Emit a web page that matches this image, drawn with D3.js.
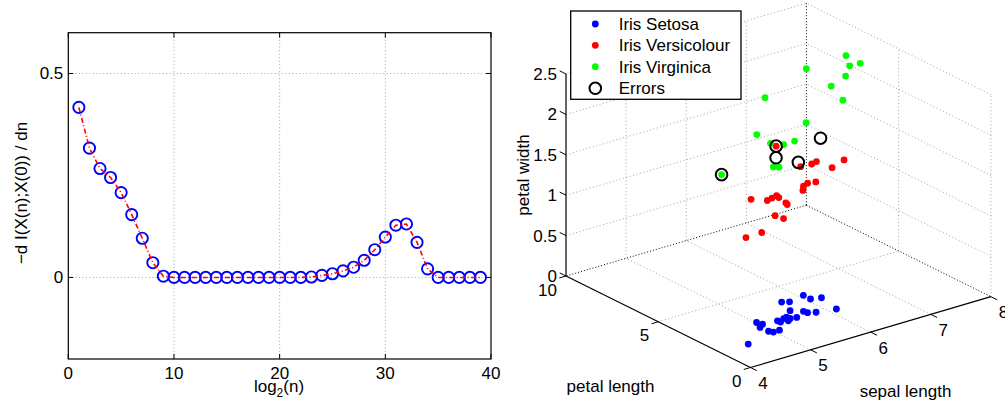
<!DOCTYPE html>
<html>
<head>
<meta charset="utf-8">
<script src="https://cdn.jsdelivr.net/npm/d3@7"></script>
<style>
  body { margin: 0; background: #fff; }
  svg { display: block; font-family: 'Liberation Sans', Arial, sans-serif; }
</style>
</head>
<body>
<div class="wrapper"></div>
<script>
// left panel data: -dI/dn against log2(n)
const steps = [1, 2, 3, 4, 5, 6, 7, 8, 9, 10, 11, 12, 13, 14, 15, 16, 17, 18, 19, 20,
  21, 22, 23, 24, 25, 26, 27, 28, 29, 30, 31, 32, 33, 34, 35, 36, 37, 38, 39]
const rates = [0.417, 0.317, 0.267, 0.245, 0.208, 0.154, 0.096, 0.036, 0.003,
  0, 0, 0, 0, 0, 0, 0, 0, 0, 0, 0, 0, 0, 0.001,
  0.005, 0.009, 0.016, 0.025, 0.042, 0.068, 0.099, 0.128, 0.131, 0.086, 0.021,
  0, 0, 0, 0, 0]
const xTicks = [0, 10, 20, 30, 40]
const yTicks = [0, 0.5]

// right panel data: [sepal length, petal length, petal width]
const setosa = [
  [5.34, 1.5, 0.43], [5.49, 1.6, 0.34], [5.58, 1.3, 0.37], [5.04, 1.7, 0.39], [5.11, 1.5, 0.40],
  [5.89, 1.5, 0.14], [5.15, 1.6, 0.27], [5.31, 1.4, 0.25], [5.41, 1.5, 0.20], [5.49, 1.3, 0.21],
  [5.23, 1.5, 0.18], [5.09, 1.4, 0.21], [4.95, 1.3, 0.25], [5.09, 1.5, 0.17], [4.93, 1.4, 0.20],
  [4.94, 1.6, 0.19], [4.50, 1.3, 0.30], [4.63, 1.4, 0.24], [4.62, 1.5, 0.19], [4.73, 1.4, 0.13],
  [4.78, 1.3, 0.12], [4.85, 1.2, 0.14], [4.30, 1.1, 0.10], [5.06, 1.5, 0.22]
]
const versicolour = [
  [5.90, 4.80, 1.78], [6.20, 4.45, 1.50], [6.44, 4.63, 1.46], [6.54, 4.70, 1.46], [7.00, 4.70, 1.38],
  [6.88, 4.96, 1.28], [6.53, 4.70, 1.21], [6.35, 4.56, 1.25], [6.26, 4.49, 1.24], [6.25, 4.49, 1.19],
  [5.13, 3.65, 1.42], [5.48, 3.91, 1.30], [5.58, 3.98, 1.30], [5.68, 4.06, 1.30], [5.88, 4.21, 1.15],
  [5.91, 4.23, 1.12], [5.65, 4.04, 1.06], [5.83, 4.17, 0.97], [5.36, 3.82, 0.94], [5.02, 3.57, 0.98],
  [5.73, 4.10, 1.26]
]
const virginica = [
  [7.48, 6.16, 2.40], [7.56, 6.22, 2.25], [7.79, 6.40, 2.21], [7.47, 6.15, 2.15], [6.62, 5.51, 2.50],
  [7.16, 5.92, 2.12], [5.73, 4.85, 2.41], [7.41, 6.10, 1.87], [6.62, 5.52, 1.83], [5.55, 4.71, 2.01],
  [6.37, 5.33, 1.68], [5.85, 4.94, 1.81], [6.13, 5.14, 1.71], [5.91, 4.98, 1.50], [6.03, 5.07, 1.46],
  [4.90, 4.50, 1.68]
]
const errors = [[4.90, 4.50, 1.68], [5.90, 4.80, 1.78], [5.96, 5.00, 1.60], [6.30, 4.90, 1.48], [6.70, 5.00, 1.68]]
const sepalTicks = [4, 5, 6, 7, 8]
const petalTicks = [0, 5, 10]
const widthTicks = [0, 0.5, 1, 1.5, 2, 2.5]
const legendNames = ['Iris Setosa', 'Iris Versicolour', 'Iris Virginica', 'Errors']

const width = 1005, height = 402
const font = 17

const svg = d3.select('.wrapper')
  .append('svg')
  .attr('width', width)
  .attr('height', height)

// ---------- left panel ----------
const box = { left: 68.3, right: 491, top: 32.7, bottom: 359 }
const x = d3.scaleLinear().domain([0, 40]).range([box.left, box.right])
const y = d3.scaleLinear().domain([-0.2, 0.6]).range([box.bottom, box.top])

const lp = svg.append('g')

// dotted grid
lp.selectAll('line.vgrid')
  .data(xTicks.slice(1, -1))
  .join('line')
  .attr('x1', d => x(d)).attr('x2', d => x(d))
  .attr('y1', box.top).attr('y2', box.bottom)
  .attr('stroke', '#8a8a8a').attr('stroke-width', 0.8).attr('stroke-dasharray', '1,2.5')

lp.selectAll('line.hgrid')
  .data(yTicks)
  .join('line')
  .attr('x1', box.left).attr('x2', box.right)
  .attr('y1', d => y(d)).attr('y2', d => y(d))
  .attr('stroke', '#8a8a8a').attr('stroke-width', 0.8).attr('stroke-dasharray', '1,2.5')

// inward ticks on all four sides
const tk = 5
xTicks.forEach(d => {
  lp.append('line').attr('x1', x(d)).attr('x2', x(d)).attr('y1', box.bottom).attr('y2', box.bottom - tk).attr('stroke', '#000')
  lp.append('line').attr('x1', x(d)).attr('x2', x(d)).attr('y1', box.top).attr('y2', box.top + tk).attr('stroke', '#000')
})
yTicks.forEach(d => {
  lp.append('line').attr('x1', box.left).attr('x2', box.left + tk).attr('y1', y(d)).attr('y2', y(d)).attr('stroke', '#000')
  lp.append('line').attr('x1', box.right).attr('x2', box.right - tk).attr('y1', y(d)).attr('y2', y(d)).attr('stroke', '#000')
})

lp.append('rect')
  .attr('x', box.left).attr('y', box.top)
  .attr('width', box.right - box.left).attr('height', box.bottom - box.top)
  .attr('fill', 'none').attr('stroke', '#000').attr('stroke-width', 1.2)

// tick labels
lp.selectAll('text.xt')
  .data(xTicks)
  .join('text')
  .attr('x', d => x(d)).attr('y', box.bottom + 20)
  .attr('text-anchor', 'middle').attr('font-size', font)
  .text(d => d)

lp.selectAll('text.yt')
  .data(yTicks)
  .join('text')
  .attr('x', box.left - 5).attr('y', d => y(d)).attr('dy', '0.35em')
  .attr('text-anchor', 'end').attr('font-size', font)
  .text(d => d)

// axis labels
const xl = lp.append('text')
  .attr('x', 279).attr('y', 392)
  .attr('text-anchor', 'middle').attr('font-size', font)
xl.append('tspan').text('log')
xl.append('tspan').attr('dy', 5).attr('font-size', 12).text('2')
xl.append('tspan').attr('dy', -5).text('(n)')

lp.append('text')
  .attr('transform', 'translate(27, 193) rotate(-90)')
  .attr('text-anchor', 'middle').attr('font-size', font)
  .text('\u2212d I(X(n);X(0)) / dn')

// markers and dash-dot line
lp.selectAll('circle.pt')
  .data(steps)
  .join('circle')
  .attr('cx', (d, i) => x(d)).attr('cy', (d, i) => y(rates[i]))
  .attr('r', 5.6)
  .attr('fill', 'none').attr('stroke', '#0000ff').attr('stroke-width', 1.9)

const line = d3.line()
  .x((d, i) => x(steps[i]))
  .y(d => y(d))

lp.append('path')
  .datum(rates)
  .attr('d', line)
  .attr('fill', 'none').attr('stroke', '#ff0000').attr('stroke-width', 1.6)
  .attr('stroke-dasharray', '5,2.5,1,2.5')

// ---------- right panel (3-D scatter) ----------
const xs = d3.scaleLinear().domain([4, 8]).range([0, 1])
const ys = d3.scaleLinear().domain([0, 10]).range([0, 1])
const zs = d3.scaleLinear().domain([0, 2.5]).range([0, 1])

// screen vectors of the three box edges, starting at the front-bottom corner
const O = [750.5, 367.5], EX = [240.4, -70.8], EY = [-184.5, -91.5], EZ = [0, -202]
const proj = (s, p, w) => [
  O[0] + xs(s) * EX[0] + ys(p) * EY[0] + zs(w) * EZ[0],
  O[1] + xs(s) * EX[1] + ys(p) * EY[1] + zs(w) * EZ[1]
]

const rp = svg.append('g')

const seg = (a, b, stroke, dash, sw) => rp.append('line')
  .attr('x1', a[0]).attr('y1', a[1]).attr('x2', b[0]).attr('y2', b[1])
  .attr('stroke', stroke).attr('stroke-dasharray', dash).attr('stroke-width', sw)

const gridCol = '#8a8a8a', gridDash = '1,2.5'
const sMin = 4, sMax = 8, pMin = 0, pMax = 10, wMin = 0, wMax = 2.5

// floor grid
sepalTicks.slice(1, -1).forEach(s => seg(proj(s, pMin, wMin), proj(s, pMax, wMin), gridCol, gridDash, 0.8))
petalTicks.slice(1, -1).forEach(p => seg(proj(sMin, p, wMin), proj(sMax, p, wMin), gridCol, gridDash, 0.8))
// back wall (petal length = 10)
sepalTicks.slice(1, -1).forEach(s => seg(proj(s, pMax, wMin), proj(s, pMax, wMax), gridCol, gridDash, 0.8))
widthTicks.slice(1).forEach(w => seg(proj(sMin, pMax, w), proj(sMax, pMax, w), gridCol, gridDash, 0.8))
// side wall (sepal length = 8)
petalTicks.slice(0, -1).forEach(p => seg(proj(sMax, p, wMin), proj(sMax, p, wMax), gridCol, gridDash, 0.8))
widthTicks.slice(1).forEach(w => seg(proj(sMax, pMin, w), proj(sMax, pMax, w), gridCol, gridDash, 0.8))
// hidden box edges through the back corner
seg(proj(sMax, pMax, wMin), proj(sMin, pMax, wMin), '#000', '1,2', 1)
seg(proj(sMax, pMax, wMin), proj(sMax, pMin, wMin), '#000', '1,2', 1)
seg(proj(sMax, pMax, wMin), proj(sMax, pMax, wMax), '#000', '1,2', 1)

// solid axes
seg(proj(sMin, pMin, wMin), proj(sMax, pMin, wMin), '#000', null, 1.2)
seg(proj(sMin, pMin, wMin), proj(sMin, pMax, wMin), '#000', null, 1.2)
seg(proj(sMin, pMax, wMin), proj(sMin, pMax, wMax), '#000', null, 1.2)

// ticks and labels
const unit = v => { const l = Math.hypot(v[0], v[1]); return [v[0] / l, v[1] / l] }
const tl = 7
const dSep = unit([-EY[0], -EY[1]]), dPet = unit([-EX[0], -EX[1]]), dWid = unit(EY)

sepalTicks.forEach(s => {
  const a = proj(s, pMin, wMin)
  seg(a, [a[0] + dSep[0] * tl, a[1] + dSep[1] * tl], '#000', null, 1)
  rp.append('text').attr('x', a[0] + 12.5).attr('y', a[1] + 21.5)
    .attr('text-anchor', 'middle').attr('font-size', font).text(s)
})
petalTicks.forEach(p => {
  const a = proj(sMin, p, wMin)
  seg(a, [a[0] + dPet[0] * tl, a[1] + dPet[1] * tl], '#000', null, 1)
  rp.append('text').attr('x', a[0] - 9).attr('y', a[1] + 19.5)
    .attr('text-anchor', 'end').attr('font-size', font).text(p)
})
widthTicks.forEach(w => {
  const a = proj(sMin, pMax, w)
  seg(a, [a[0] + dWid[0] * tl, a[1] + dWid[1] * tl], '#000', null, 1)
  rp.append('text').attr('x', a[0] - 9).attr('y', a[1] + 6)
    .attr('text-anchor', 'end').attr('font-size', font).text(w)
})

rp.append('text').attr('x', 610.5).attr('y', 391.5)
  .attr('text-anchor', 'middle').attr('font-size', font).text('petal length')
rp.append('text').attr('x', 905.5).attr('y', 396.5)
  .attr('text-anchor', 'middle').attr('font-size', font).text('sepal length')
rp.append('text').attr('transform', 'translate(529, 175) rotate(-90)')
  .attr('text-anchor', 'middle').attr('font-size', font).text('petal width')

// points
const classes = [
  { rows: setosa, color: '#0000ff' },
  { rows: versicolour, color: '#ff0000' },
  { rows: virginica, color: '#00ff00' }
]
classes.forEach(c => {
  rp.append('g').selectAll('circle')
    .data(c.rows)
    .join('circle')
    .attr('cx', d => proj(...d)[0])
    .attr('cy', d => proj(...d)[1])
    .attr('r', 3.4)
    .attr('fill', c.color)
})
rp.append('g').selectAll('circle')
  .data(errors)
  .join('circle')
  .attr('cx', d => proj(...d)[0])
  .attr('cy', d => proj(...d)[1])
  .attr('r', 5.8)
  .attr('fill', 'none').attr('stroke', '#000').attr('stroke-width', 2)

// legend
const lg = svg.append('g')
lg.append('rect')
  .attr('x', 570.7).attr('y', 11).attr('width', 170.3).attr('height', 88.3)
  .attr('fill', '#fff').attr('stroke', '#000').attr('stroke-width', 1.3)
const rowY = [24, 45.3, 66.7, 88.3]
legendNames.forEach((name, i) => {
  if (i < 3) {
    lg.append('circle').attr('cx', 595.3).attr('cy', rowY[i]).attr('r', 3.4).attr('fill', classes[i].color)
  } else {
    lg.append('circle').attr('cx', 595.3).attr('cy', rowY[i]).attr('r', 5.8)
      .attr('fill', 'none').attr('stroke', '#000').attr('stroke-width', 2)
  }
  lg.append('text').attr('x', 618.7).attr('y', rowY[i]).attr('dy', '0.36em')
    .attr('font-size', font).text(name)
})
</script>
</body>
</html>
